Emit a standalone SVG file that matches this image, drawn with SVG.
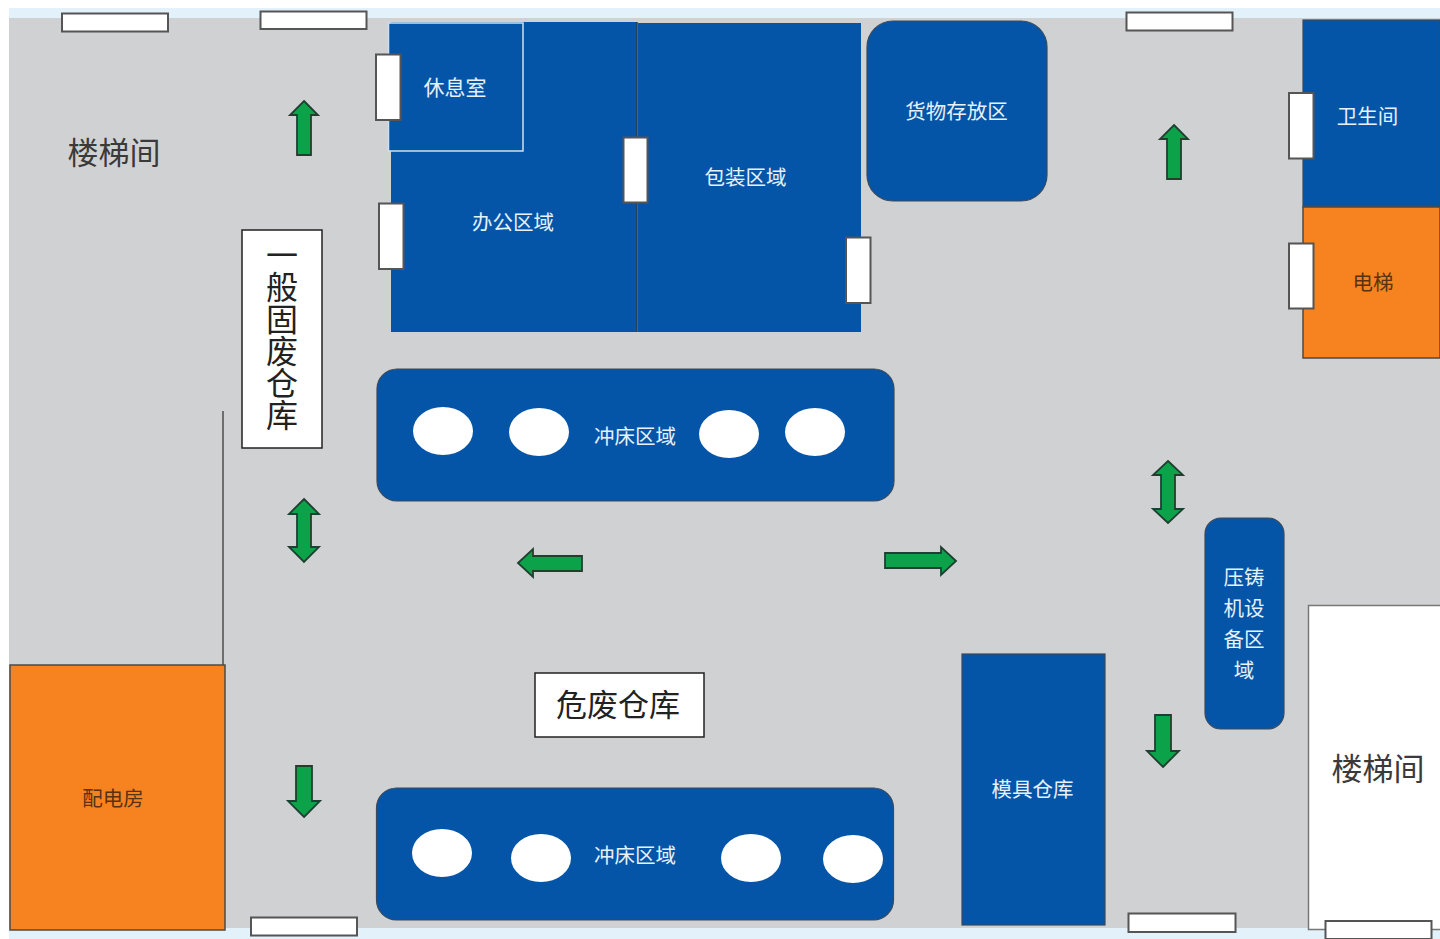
<svg xmlns="http://www.w3.org/2000/svg" width="1440" height="939" viewBox="0 0 1440 939">
<style>
text{font-family:"Noto Sans CJK SC","Noto Sans",sans-serif;text-anchor:middle}
.w{fill:#e6f1fa;font-size:21px}
.l{fill:#e6f1fa;font-size:20.5px}
.d{fill:#3a3a3a;font-size:31px}
.b{fill:#0455a8;stroke:#3b4a5c;stroke-width:1.2}
.bn{fill:#0455a8}
.o{fill:#f6831f;stroke:#4f4a45;stroke-width:1.5}
.t{fill:#fff;stroke:#555;stroke-width:2}
.box{fill:#fff;stroke:#222;stroke-width:1.5}
.e{fill:#fff}
.a{fill:#0ba24a;stroke:#1f4030;stroke-width:1.8;stroke-linejoin:miter}
</style>
<rect width="1440" height="939" fill="#fff"/>
<rect x="9" y="8" width="1431" height="931" fill="#e2f1fa"/>
<rect id="floor" x="9" y="18" width="1431" height="910" fill="#d0d1d3"/>
<path id="wall" d="M223 411V665" fill="none" stroke="#555" stroke-width="1.6"/>

<g id="office"><rect class="bn" x="391" y="22" width="246" height="310"/><path d="M637 22V332" stroke="#2a3a4d" stroke-width="1.5"/><text class="l" x="513" y="230">办公区域</text></g>
<g id="rest"><rect class="bn" x="388.500" y="23" width="134.500" height="128" stroke="#cfe0ee" stroke-width="1.5"/><text class="w" x="455" y="95">休息室</text></g>
<g id="packing"><rect class="bn" x="638" y="23" width="223" height="309"/><text class="l" x="745.500" y="185">包装区域</text></g>
<g id="storage"><rect class="b" x="867" y="21" width="180" height="180" rx="26"/><text class="l" x="956.500" y="119">货物存放区</text></g>
<g id="toilet"><rect class="b" x="1303" y="20" width="137" height="187"/><text class="l" x="1367.500" y="124">卫生间</text></g>
<g id="elevator"><rect class="o" x="1303" y="207" width="137" height="151"/><text x="1373" y="290" font-size="20.5" fill="#5a3212">电梯</text></g>
<g id="stair1"><text class="d" x="114" y="164">楼梯间</text></g>
<g id="general-waste"><rect class="box" x="242" y="230" width="80" height="218"/>
<text x="282" y="239" font-size="32" fill="#222" style="writing-mode:vertical-rl;text-orientation:upright;text-anchor:start">一般固废仓库</text></g>
<g id="press1"><rect class="b" x="377" y="369" width="517" height="132" rx="20"/>
<ellipse class="e" cx="443" cy="431" rx="30" ry="24"/><ellipse class="e" cx="539" cy="432" rx="30" ry="24"/><ellipse class="e" cx="729" cy="434" rx="30" ry="24"/><ellipse class="e" cx="815" cy="432" rx="30" ry="24"/>
<text class="l" x="635" y="444">冲床区域</text></g>
<g id="press2"><rect class="b" x="376.500" y="788" width="517" height="132" rx="20"/>
<ellipse class="e" cx="442" cy="853" rx="30" ry="24"/><ellipse class="e" cx="541" cy="858" rx="30" ry="24"/><ellipse class="e" cx="751" cy="858" rx="30" ry="24"/><ellipse class="e" cx="853" cy="859" rx="30" ry="24"/>
<text class="l" x="635" y="863">冲床区域</text></g>
<g id="hazard-waste"><rect class="box" x="535" y="673" width="169" height="64"/><text x="618" y="716" font-size="31" fill="#222">危废仓库</text></g>
<g id="power"><rect class="o" x="10" y="665" width="215" height="265"/><text x="113" y="806" font-size="20.5" fill="#5a3212">配电房</text></g>
<g id="mold"><rect class="b" x="962" y="654" width="143" height="271"/><text class="l" x="1032.500" y="797">模具仓库</text></g>
<g id="diecast"><rect class="b" x="1205" y="518" width="79" height="211" rx="16"/>
<text class="l" x="1244" y="585">压铸</text><text class="l" x="1244" y="616">机设</text><text class="l" x="1244" y="647">备区</text><text class="l" x="1244" y="678">域</text></g>
<g id="stair2"><rect x="1308.500" y="605.500" width="140" height="324" fill="#fff" stroke="#777" stroke-width="1.500"/><text class="d" x="1378" y="780">楼梯间</text></g>

<g id="doors">
<rect class="t" x="62" y="13.500" width="106" height="18"/>
<rect class="t" x="260.500" y="11.500" width="106" height="17.500"/>
<rect class="t" x="1126.500" y="12.500" width="106" height="18"/>
<rect class="t" x="251" y="917.500" width="106" height="18"/>
<rect class="t" x="1128.500" y="913.500" width="107" height="18.500"/>
<rect class="t" x="1325.500" y="921" width="106" height="18"/>
<rect class="t" x="376" y="54.500" width="24.500" height="65.500"/>
<rect class="t" x="379" y="203.500" width="24.500" height="65.500"/>
<rect class="t" x="623.500" y="137.500" width="24" height="65"/>
<rect class="t" x="846" y="237.500" width="24.500" height="65.500"/>
<rect class="t" x="1289" y="93" width="24.500" height="65.500"/>
<rect class="t" x="1289" y="243.500" width="24.500" height="65"/>
</g>

<g id="connectors">
<path class="a" d="M304 101L318 115H311V155H297V115H290Z"/>
<path class="a" d="M1174 125L1188 139H1181V179H1167V139H1160Z"/>
<path class="a" d="M304 499L319 514H311V547H319L304 562L289 547H297V514H289Z"/>
<path class="a" d="M1168 461L1183 475H1175V509H1183L1168 523L1153 509H1161V475H1153Z"/>
<path class="a" d="M304 817L320 801H312V766H296V801H288Z"/>
<path class="a" d="M1163 767L1179 751H1171V715H1155V751H1147Z"/>
<path class="a" d="M518 563L533 549V556H582V571H533V577Z"/>
<path class="a" d="M956 561L941 547V553H885V568H941V575Z"/>
</g>
</svg>
